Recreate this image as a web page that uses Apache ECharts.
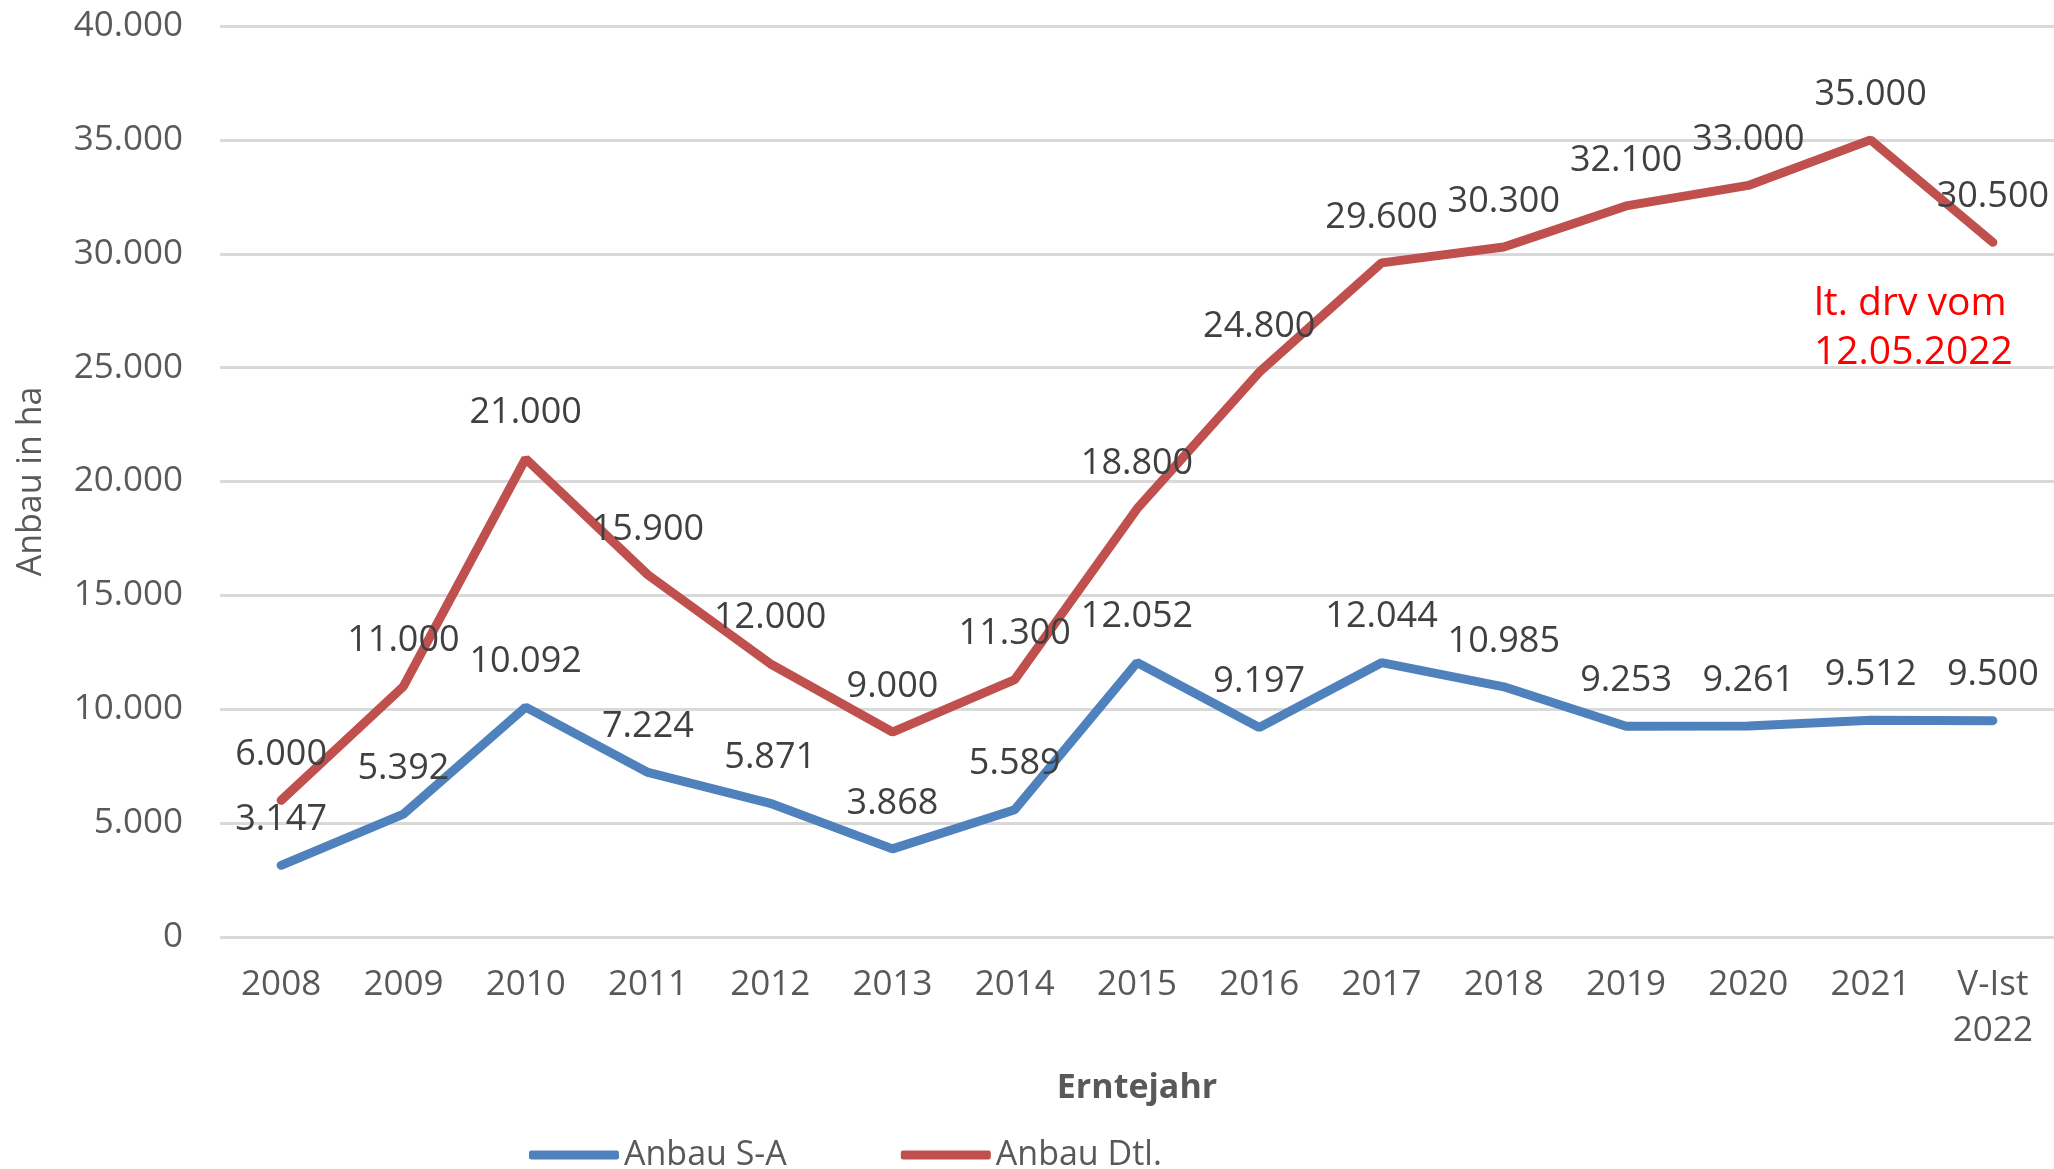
<!DOCTYPE html>
<html>
<head>
<meta charset="utf-8">
<script src="https://cdn.jsdelivr.net/npm/echarts@6/dist/echarts.min.js"></script>
<style>
  html, body { margin: 0; padding: 0; background: #fff; }
  #chart { width: 2054px; height: 1169px; }
</style>
</head>
<body>
<div id="chart"></div>
<script>
// Erntejahre
const years = ['2008', '2009', '2010', '2011', '2012', '2013', '2014', '2015', '2016', '2017', '2018', '2019', '2020', '2021', 'V-Ist\n2022']

// Anbau in ha
const anbauSA = [3147, 5392, 10092, 7224, 5871, 3868, 5589, 12052, 9197, 12044, 10985, 9253, 9261, 9512, 9500]
const anbauDtl = [6000, 11000, 21000, 15900, 12000, 9000, 11300, 18800, 24800, 29600, 30300, 32100, 33000, 35000, 30500]

const font = 'Open Sans'
const fmt = v => v.toLocaleString('de-DE')

const chart = echarts.init(document.getElementById('chart'))

const labelStyle = {
  show: true,
  position: 'top',
  distance: 27,
  color: '#404040',
  fontFamily: font,
  fontSize: 36,
  formatter: p => fmt(p.value),
}

chart.setOption({
  animation: false,
  textStyle: { fontFamily: font },
  grid: {
    left: 220,
    right: 0,
    top: 26,
    bottom: 232,
  },
  legend: {
    left: 524,
    top: 1133,
    itemWidth: 90,
    itemHeight: 9,
    itemGap: 114,
    icon: 'roundRect',
    textStyle: {
      color: '#595959',
      fontFamily: font,
      fontSize: 34,
    },
    data: ['Anbau S-A', 'Anbau Dtl.'],
  },
  xAxis: {
    type: 'category',
    data: years,
    name: 'Erntejahr',
    nameLocation: 'middle',
    nameGap: 134,
    nameTextStyle: {
      color: '#595959',
      fontFamily: font,
      fontSize: 34,
      fontWeight: 'bold',
    },
    axisLine: { show: false },
    axisTick: { show: false },
    axisLabel: {
      color: '#595959',
      fontFamily: font,
      fontSize: 35,
      margin: 25,
      lineHeight: 46,
    },
  },
  yAxis: {
    type: 'value',
    min: 0,
    max: 40000,
    interval: 5000,
    name: 'Anbau in ha',
    nameLocation: 'middle',
    nameGap: 172,
    nameTextStyle: {
      color: '#595959',
      fontFamily: font,
      fontSize: 34,
    },
    axisLine: { show: false },
    axisTick: { show: false },
    axisLabel: {
      color: '#595959',
      fontFamily: font,
      fontSize: 35,
      margin: 37,
      formatter: v => fmt(v),
    },
    splitLine: {
      lineStyle: { color: '#D9D9D9', width: 3 },
    },
  },
  graphic: [
    {
      type: 'text',
      left: 1814,
      top: 279,
      style: {
        text: 'lt. drv vom\n12.05.2022',
        fill: '#FF0000',
        font: '39px "Open Sans"',
        lineHeight: 49,
      },
    },
  ],
  series: [
    {
      name: 'Anbau S-A',
      type: 'line',
      data: anbauSA,
      symbol: 'circle',
      symbolSize: 1,
      lineStyle: { width: 9, color: '#4F81BD', cap: 'round' },
      itemStyle: { color: '#4F81BD' },
      label: labelStyle,
    },
    {
      name: 'Anbau Dtl.',
      type: 'line',
      data: anbauDtl,
      symbol: 'circle',
      symbolSize: 1,
      lineStyle: { width: 9, color: '#C0504D', cap: 'round' },
      itemStyle: { color: '#C0504D' },
      label: labelStyle,
    },
  ],
})
</script>
</body>
</html>
